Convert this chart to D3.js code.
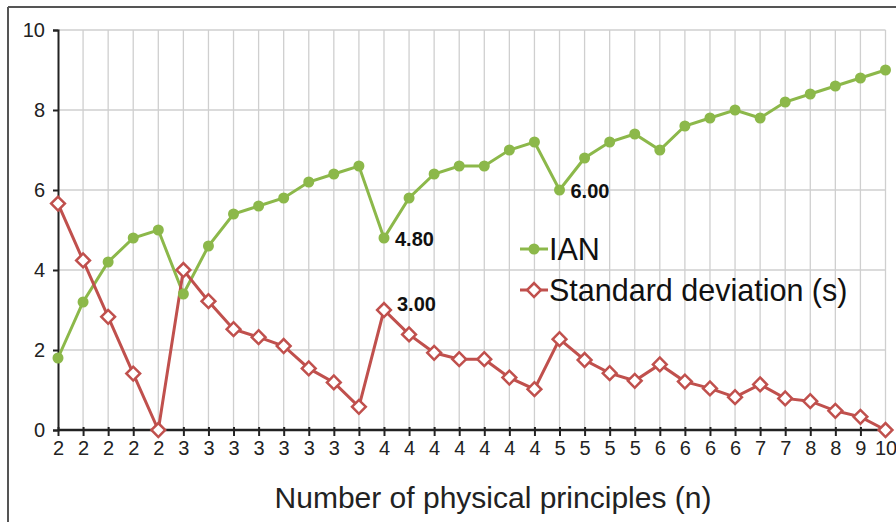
<!DOCTYPE html>
<html><head><meta charset="utf-8">
<script src="https://cdn.jsdelivr.net/npm/d3@7"></script>
<style>body{margin:0;background:#fff}svg{display:block}text{font-family:Arial,"Liberation Sans",sans-serif}</style>
</head><body>
<svg id="c" width="896" height="522"></svg>
<script>
const categories = [2,2,2,2,2,3,3,3,3,3,3,3,3,4,4,4,4,4,4,4,5,5,5,5,6,6,6,6,7,7,8,8,9,10];
const ianValues = [1.8,3.2,4.2,4.8,5.0,3.4,4.6,5.4,5.6,5.8,6.2,6.4,6.6,4.8,5.8,6.4,6.6,6.6,7.0,7.2,6.0,6.8,7.2,7.4,7.0,7.6,7.8,8.0,7.8,8.2,8.4,8.6,8.8,9.0];
const sdValues = [5.66,4.24,2.83,1.41,0,4.0,3.22,2.52,2.32,2.1,1.54,1.19,0.58,3.0,2.39,1.93,1.77,1.77,1.31,1.02,2.27,1.75,1.42,1.23,1.64,1.21,1.04,0.82,1.14,0.79,0.72,0.48,0.33,0];
const yTicks = [0,2,4,6,8,10];
const seriesNames = ["IAN","Standard deviation (s)"];
const labelledIAN = [13,20];
const labelledSD = [13];

const svg = d3.select("#c");
const green = "#8cb84a", red = "#c0504d";
const x = d3.scaleLinear().domain([0, categories.length-1]).range([58, 885.5]);
const y = d3.scaleLinear().domain([0,10]).range([430,30]);
const FONT = "Arial,'Liberation Sans',sans-serif";

// outer frame
svg.append("line").attr("x1",8).attr("x2",896).attr("y1",7).attr("y2",7).attr("stroke","#555").attr("stroke-width",2);
svg.append("line").attr("x1",8).attr("x2",8).attr("y1",7).attr("y2",522).attr("stroke","#555").attr("stroke-width",2);

// gridlines
const g = svg.append("g");
g.selectAll(".vg").data(categories.map((d,i)=>i).slice(1)).join("line")
  .attr("x1",d=>x(d)).attr("x2",d=>x(d)).attr("y1",y(10)).attr("y2",y(0))
  .attr("stroke","#cfcfcf").attr("stroke-width",1.3);
g.selectAll(".hg").data(yTicks.slice(1)).join("line")
  .attr("x1",x(0)).attr("x2",x(categories.length-1)).attr("y1",d=>y(d)).attr("y2",d=>y(d))
  .attr("stroke","#cfcfcf").attr("stroke-width",1.3);

// y axis
const yAxis = d3.axisLeft(y).tickValues(yTicks).tickSize(5).tickPadding(8).tickFormat(d3.format("d"));
const ya = svg.append("g").attr("transform",`translate(${x(0)},0)`).call(yAxis);
ya.select(".domain").attr("stroke","#222").attr("stroke-width",2);
ya.selectAll(".tick line").attr("stroke","#222").attr("stroke-width",2);
ya.selectAll("text").attr("font-size",20).attr("fill","#222").attr("font-family",FONT);

// x axis
const xAxis = d3.axisBottom(x).tickValues(categories.map((d,i)=>i)).tickFormat(i=>categories[i]).tickSize(6).tickPadding(5);
const xa = svg.append("g").attr("transform",`translate(0,${y(0)})`).call(xAxis);
xa.select(".domain").attr("stroke","#222").attr("stroke-width",2.5).attr("d",`M${x(0)},0H${x(categories.length-1)}`);
xa.selectAll(".tick line").attr("stroke","#222").attr("stroke-width",2).attr("y1",-3);
xa.selectAll("text").attr("font-size",20).attr("fill","#222").attr("font-family",FONT);

svg.append("text").attr("x",493).attr("y",508).attr("text-anchor","middle").attr("font-size",30).attr("fill","#222")
  .text("Number of physical principles (n)");

// lines
const line = d3.line().x((d,i)=>x(i)).y(d=>y(d));
svg.append("path").datum(ianValues).attr("d",line).attr("fill","none").attr("stroke",green).attr("stroke-width",3);
svg.append("path").datum(sdValues).attr("d",line).attr("fill","none").attr("stroke",red).attr("stroke-width",3);

svg.selectAll(".ian").data(ianValues).join("circle")
  .attr("cx",(d,i)=>x(i)).attr("cy",d=>y(d)).attr("r",5.5).attr("fill",green);
const dia = d3.symbol().type(d3.symbolSquare).size(95);
svg.selectAll(".sd").data(sdValues).join("path")
  .attr("transform",(d,i)=>`translate(${x(i)},${y(d)}) rotate(45)`).attr("d",dia)
  .attr("fill","#fff").attr("stroke",red).attr("stroke-width",2.5);

// data labels
svg.selectAll(".lbi").data(labelledIAN).join("text")
  .attr("x",i=>x(i)+11).attr("y",i=>y(ianValues[i])+8).attr("font-size",20).attr("font-weight","bold").attr("fill","#111").attr("font-family",FONT)
  .text(i=>ianValues[i].toFixed(2));
svg.selectAll(".lbs").data(labelledSD).join("text")
  .attr("x",i=>x(i)+13).attr("y",i=>y(sdValues[i])+1).attr("font-size",20).attr("font-weight","bold").attr("fill","#111").attr("font-family",FONT)
  .text(i=>sdValues[i].toFixed(2));

// legend
const lg = svg.append("g");
const lys = [249, 290];
lg.append("line").attr("x1",520).attr("x2",548).attr("y1",lys[0]).attr("y2",lys[0]).attr("stroke",green).attr("stroke-width",3);
lg.append("circle").attr("cx",534).attr("cy",lys[0]).attr("r",5.5).attr("fill",green);
lg.append("line").attr("x1",520).attr("x2",548).attr("y1",lys[1]).attr("y2",lys[1]).attr("stroke",red).attr("stroke-width",3);
lg.append("path").attr("transform",`translate(534,${lys[1]}) rotate(45)`).attr("d",dia).attr("fill","#fff").attr("stroke",red).attr("stroke-width",2.5);
lg.selectAll("text").data(seriesNames).join("text")
  .attr("x",549).attr("y",(d,i)=>lys[i]+11).attr("font-size",30.5).attr("fill","#111").attr("font-family",FONT).text(d=>d);
</script>
</body></html>
